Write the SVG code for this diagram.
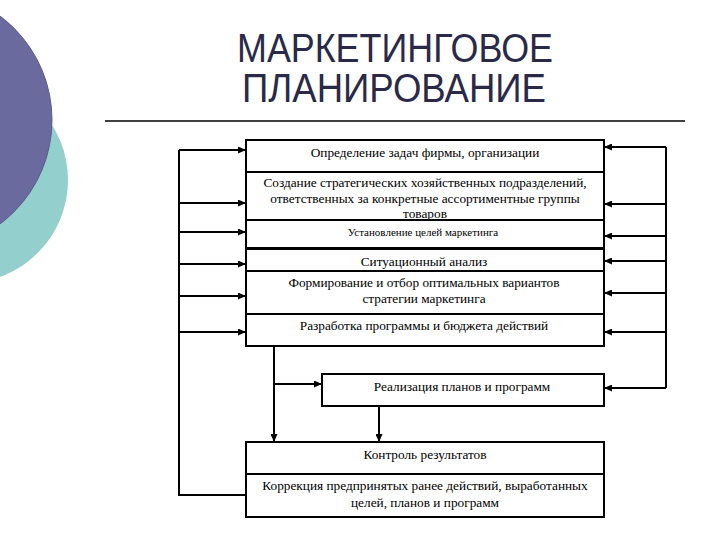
<svg xmlns="http://www.w3.org/2000/svg" width="720" height="540" viewBox="0 0 720 540">
<style>
.box{fill:#fff;stroke:#000;stroke-width:2}
.t{font-family:"Liberation Serif","Times New Roman","DejaVu Serif",serif;font-size:13.3px;fill:#000;text-anchor:middle}
.s{font-size:11px}
.ln{fill:none;stroke:#000;stroke-width:2}
.title{font-family:"Liberation Sans",Arial,sans-serif;font-size:40px;fill:#2a2a48;text-anchor:middle}
</style>
<defs>
<marker id="ah" markerUnits="userSpaceOnUse" markerWidth="9" markerHeight="7" refX="8" refY="3.5" orient="auto">
<path d="M0,0 L8,3.5 L0,7 z" fill="#000"/>
</marker>
</defs>
<rect width="720" height="540" fill="#fff"/>
<g id="decor">
<circle cx="-35" cy="180" r="103" fill="#92cfcd"/>
<circle cx="-78" cy="120" r="130" fill="#6a6a9e" stroke="#5a5a8a" stroke-width="1"/>
</g>
<g id="title">
<text class="title" x="395" y="62" textLength="316" lengthAdjust="spacingAndGlyphs">МАРКЕТИНГОВОЕ</text>
<text class="title" x="394" y="102" textLength="304" lengthAdjust="spacingAndGlyphs">ПЛАНИРОВАНИЕ</text>
<line x1="105" y1="121" x2="685" y2="121" stroke="#000" stroke-width="1.5"/>
</g>
<g id="connectors">
<path class="ln" d="M179,150 V495 H246"/>
<path class="ln" d="M179,150 H246" marker-end="url(#ah)"/>
<path class="ln" d="M179,203 H246" marker-end="url(#ah)"/>
<path class="ln" d="M179,232 H246" marker-end="url(#ah)"/>
<path class="ln" d="M179,264 H246" marker-end="url(#ah)"/>
<path class="ln" d="M179,296 H246" marker-end="url(#ah)"/>
<path class="ln" d="M179,332 H246" marker-end="url(#ah)"/>
<path class="ln" d="M666,147 V388"/>
<path class="ln" d="M666,147 H604" marker-end="url(#ah)"/>
<path class="ln" d="M666,204 H604" marker-end="url(#ah)"/>
<path class="ln" d="M666,236 H604" marker-end="url(#ah)"/>
<path class="ln" d="M666,261 H604" marker-end="url(#ah)"/>
<path class="ln" d="M666,293 H604" marker-end="url(#ah)"/>
<path class="ln" d="M666,332 H604" marker-end="url(#ah)"/>
<path class="ln" d="M666,388 H604" marker-end="url(#ah)"/>
<path class="ln" d="M274,346 V442" marker-end="url(#ah)"/>
<path class="ln" d="M274,384 H322" marker-end="url(#ah)"/>
<path class="ln" d="M379,406 V442" marker-end="url(#ah)"/>
</g>
<g id="n1">
<rect class="box" x="246" y="140" width="358" height="32"/>
<text class="t" x="425" y="157">Определение задач фирмы, организации</text>
</g>
<g id="n2">
<rect class="box" x="246" y="172" width="358" height="48"/>
<text class="t" x="425" y="187">Создание стратегических хозяйственных подразделений,</text>
<text class="t" x="425" y="203">ответственных за конкретные ассортиментные группы</text>
<text class="t" x="425" y="218">товаров</text>
</g>
<g id="n3">
<rect class="box" x="246" y="220" width="358" height="28"/>
<text class="t s" x="423" y="236">Установление целей маркетинга</text>
</g>
<g id="n4">
<rect class="box" x="246" y="249" width="358" height="22"/>
<text class="t" x="424" y="266">Ситуационный анализ</text>
</g>
<g id="n5">
<rect class="box" x="246" y="271" width="358" height="43"/>
<text class="t" x="424" y="287">Формирование и отбор оптимальных вариантов</text>
<text class="t" x="424" y="303">стратегии маркетинга</text>
</g>
<g id="n6">
<rect class="box" x="246" y="314" width="358" height="32"/>
<text class="t" x="424" y="330">Разработка программы и бюджета действий</text>
</g>
<g id="n7">
<rect class="box" x="322" y="374" width="282" height="32"/>
<text class="t" x="462" y="391">Реализация планов и программ</text>
</g>
<g id="n8">
<rect class="box" x="246" y="442" width="358" height="32"/>
<text class="t" x="425" y="459">Контроль результатов</text>
</g>
<g id="n9">
<rect class="box" x="246" y="474" width="358" height="43"/>
<text class="t" x="425" y="490">Коррекция предпринятых ранее действий, выработанных</text>
<text class="t" x="425" y="507">целей, планов и программ</text>
</g>
</svg>
